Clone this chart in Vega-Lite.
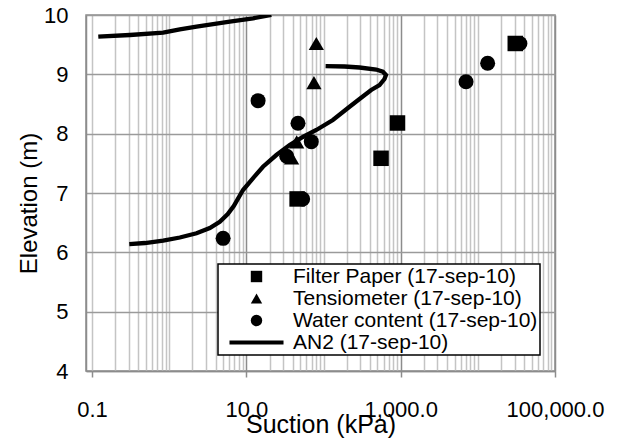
{
  "$schema": "https://vega.github.io/schema/vega-lite/v6.json",
  "autosize": "none",
  "width": 469,
  "height": 356,
  "padding": {"left": 86, "top": 15, "right": 68, "bottom": 73},
  "background": "white",
  "config": {
    "font": "Liberation Sans",
    "view": {"stroke": "#8c8c8c", "strokeWidth": 1.5},
    "legend": {"strokeWidth": 1.5}
  },
  "datasets": {
    "pts": [
      {"series": "Filter Paper (17-sep-10)", "suction": 910, "elev": 8.18},
      {"series": "Filter Paper (17-sep-10)", "suction": 557, "elev": 7.585},
      {"series": "Filter Paper (17-sep-10)", "suction": 30550, "elev": 9.52},
      {"series": "Filter Paper (17-sep-10)", "suction": 45.5, "elev": 6.9},
      {"series": "Tensiometer (17-sep-10)", "suction": 80.7, "elev": 9.52},
      {"series": "Tensiometer (17-sep-10)", "suction": 75.2, "elev": 8.86},
      {"series": "Tensiometer (17-sep-10)", "suction": 44.9, "elev": 7.86},
      {"series": "Tensiometer (17-sep-10)", "suction": 38.6, "elev": 7.59},
      {"series": "Water content (17-sep-10)", "suction": 14.2, "elev": 8.556},
      {"series": "Water content (17-sep-10)", "suction": 46.7, "elev": 8.175},
      {"series": "Water content (17-sep-10)", "suction": 69.5, "elev": 7.865},
      {"series": "Water content (17-sep-10)", "suction": 33.4, "elev": 7.62},
      {"series": "Water content (17-sep-10)", "suction": 53.7, "elev": 6.9},
      {"series": "Water content (17-sep-10)", "suction": 5.0, "elev": 6.236},
      {"series": "Water content (17-sep-10)", "suction": 7030, "elev": 8.876},
      {"series": "Water content (17-sep-10)", "suction": 13400, "elev": 9.186},
      {"series": "Water content (17-sep-10)", "suction": 35100, "elev": 9.52}
    ],
    "curve": [
      {"seg": "a", "i": 1, "suction": 0.304, "elev": 6.14},
      {"seg": "a", "i": 2, "suction": 0.485, "elev": 6.157},
      {"seg": "a", "i": 3, "suction": 0.836, "elev": 6.196},
      {"seg": "a", "i": 4, "suction": 1.375, "elev": 6.25},
      {"seg": "a", "i": 5, "suction": 2.262, "elev": 6.321},
      {"seg": "a", "i": 6, "suction": 3.36, "elev": 6.41},
      {"seg": "a", "i": 7, "suction": 4.53, "elev": 6.516},
      {"seg": "a", "i": 8, "suction": 5.745, "elev": 6.646},
      {"seg": "a", "i": 9, "suction": 6.87, "elev": 6.781},
      {"seg": "a", "i": 10, "suction": 9.06, "elev": 7.05},
      {"seg": "a", "i": 11, "suction": 11.64, "elev": 7.219},
      {"seg": "a", "i": 12, "suction": 16.44, "elev": 7.443},
      {"seg": "a", "i": 13, "suction": 24.5, "elev": 7.64},
      {"seg": "a", "i": 14, "suction": 36.4, "elev": 7.809},
      {"seg": "a", "i": 15, "suction": 54.1, "elev": 7.944},
      {"seg": "a", "i": 16, "suction": 80.7, "elev": 8.062},
      {"seg": "a", "i": 17, "suction": 132.3, "elev": 8.23},
      {"seg": "a", "i": 18, "suction": 217.6, "elev": 8.454},
      {"seg": "a", "i": 19, "suction": 293, "elev": 8.584},
      {"seg": "a", "i": 20, "suction": 415, "elev": 8.736},
      {"seg": "a", "i": 21, "suction": 532, "elev": 8.82},
      {"seg": "a", "i": 22, "suction": 617, "elev": 8.921},
      {"seg": "a", "i": 23, "suction": 645, "elev": 8.989},
      {"seg": "a", "i": 24, "suction": 587, "elev": 9.044},
      {"seg": "a", "i": 25, "suction": 482, "elev": 9.081},
      {"seg": "a", "i": 26, "suction": 293, "elev": 9.115},
      {"seg": "a", "i": 27, "suction": 187.5, "elev": 9.132},
      {"seg": "a", "i": 28, "suction": 106.4, "elev": 9.14},
      {"seg": "b", "i": 29, "suction": 0.1206, "elev": 9.634},
      {"seg": "b", "i": 30, "suction": 0.31, "elev": 9.663},
      {"seg": "b", "i": 31, "suction": 0.836, "elev": 9.702},
      {"seg": "b", "i": 32, "suction": 1.375, "elev": 9.759},
      {"seg": "b", "i": 33, "suction": 2.262, "elev": 9.803},
      {"seg": "b", "i": 34, "suction": 6.1, "elev": 9.887},
      {"seg": "b", "i": 35, "suction": 12.21, "elev": 9.944},
      {"seg": "b", "i": 36, "suction": 21.1, "elev": 10.0}
    ]
  },
  "encoding": {
    "x": {
      "field": "suction", "type": "quantitative",
      "scale": {"type": "log", "domain": [0.0836, 100000], "nice": false},
      "axis": {
        "title": "Suction (kPa)",
        "titleFontSize": 25, "titleFontWeight": "normal", "titleColor": "black",
        "titleBaseline": "alphabetic", "titleY": 61,
        "values": [0.1,0.2,0.3,0.4,0.5,0.6,0.7,0.8,0.9,1,2,3,4,5,6,7,8,9,10,20,30,40,50,60,70,80,90,100,200,300,400,500,600,700,800,900,1000,2000,3000,4000,5000,6000,7000,8000,9000,10000,20000,30000,40000,50000,60000,70000,80000,90000,100000],
        "labelExpr": "datum.value == 0.1 ? '0.1' : datum.value == 10 ? '10.0' : datum.value == 1000 ? '1,000.0' : datum.value == 100000 ? '100,000.0' : ''",
        "labelFontSize": 22, "labelColor": "black", "labelBaseline": "alphabetic",
        "labelPadding": 39.5, "labelOverlap": false, "labelFlush": false, "labelBound": false,
        "tickSize": 6, "tickWidth": 1.5,
        "tickColor": {"condition": {"test": "datum.value == 0.1 || datum.value == 10 || datum.value == 1000 || datum.value == 100000", "value": "#8c8c8c"}, "value": "transparent"},
        "gridColor": {"condition": {"test": "datum.value == 10 || datum.value == 1000 || datum.value == 100000", "value": "#8c8c8c"}, "value": "#c4c4c4"},
        "gridWidth": 1.5,
        "domainColor": "#8c8c8c", "domainWidth": 1.5
      }
    },
    "y": {
      "field": "elev", "type": "quantitative",
      "scale": {"domain": [4, 10], "nice": false, "zero": false},
      "axis": {
        "title": "Elevation (m)",
        "titleFontSize": 24, "titleFontWeight": "normal", "titleColor": "black",
        "titleBaseline": "alphabetic", "titleX": -50, "titleY": 188, "titleAlign": "center",
        "values": [4,5,6,7,8,9,10],
        "ticks": false, "labelPadding": 18,
        "labelFontSize": 22, "labelColor": "black",
        "gridColor": "#9a9a9a", "gridWidth": 1.5,
        "domainColor": "#8c8c8c", "domainWidth": 1.5
      }
    }
  },
  "layer": [
    {
      "data": {"name": "curve"},
      "mark": {"type": "line", "color": "black", "strokeWidth": 4.3, "clip": true},
      "encoding": {
        "detail": {"field": "seg"},
        "order": {"field": "i", "type": "quantitative"}
      }
    },
    {
      "data": {"name": "pts"},
      "mark": {"type": "point", "filled": true, "color": "black", "opacity": 1},
      "encoding": {
        "shape": {
          "field": "series", "type": "nominal",
          "scale": {
            "domain": ["Filter Paper (17-sep-10)", "Tensiometer (17-sep-10)", "Water content (17-sep-10)", "AN2 (17-sep-10)"],
            "range": ["square", "triangle-up", "circle", "M-4.74,-0.35H4.74V0.35H-4.74Z"]
          },
          "legend": {
            "title": null, "orient": "none", "legendX": 132, "legendY": 249,
            "strokeColor": "black", "fillColor": "white", "padding": 2,
            "labelFontSize": 21, "labelColor": "black", "labelLimit": 400,
            "labelExpr": "datum.label + '\u00a0\u00a0\u00a0'",
            "symbolSize": 130, "symbolFillColor": "black", "symbolStrokeWidth": 0,
            "symbolOffset": 26, "labelOffset": 26, "rowPadding": 0
          }
        },
        "size": {
          "field": "series", "type": "nominal",
          "scale": {"domain": ["Filter Paper (17-sep-10)", "Tensiometer (17-sep-10)", "Water content (17-sep-10)"], "range": [240, 225, 140]},
          "legend": null
        }
      }
    }
  ]
}
